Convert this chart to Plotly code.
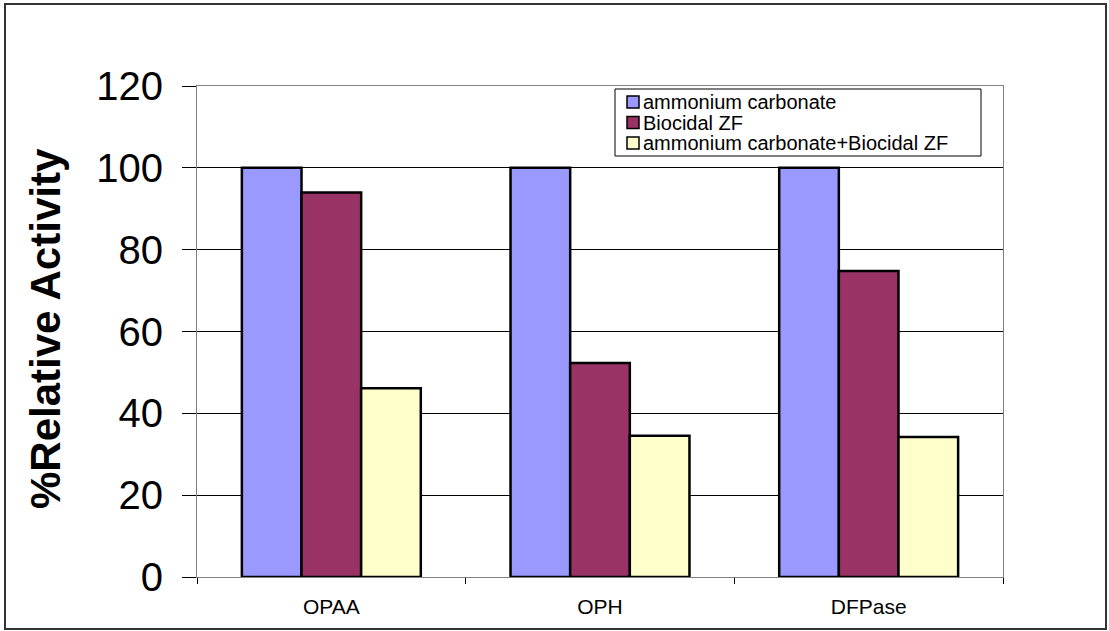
import plotly.graph_objects as go

# Enzyme categories and relative activities (%) per treatment
categories = ["OPAA", "OPH", "DFPase"]
series_names = ["ammonium carbonate", "Biocidal ZF", "ammonium carbonate+Biocidal ZF"]
ammonium_carbonate = [100, 100, 100]
biocidal_zf = [94, 52.3, 74.8]
combined = [46.1, 34.5, 34.2]
series_values = [ammonium_carbonate, biocidal_zf, combined]
series_colors = ["#9999FF", "#993366", "#FFFFCC"]
y_ticks = [0, 20, 40, 60, 80, 100, 120]

W, H = 1109, 631
L, R, T, B = 197, 1003, 86, 577  # plot area in pixels


def px(x):
    return (x - L) / (R - L)


def py(y):
    return (B - y) / (B - T)


FONT = "Liberation Sans, Arial, sans-serif"

fig = go.Figure()
for name, vals, col in zip(series_names, series_values, series_colors):
    fig.add_trace(go.Bar(
        x=categories, y=vals, name=name,
        marker=dict(color=col, line=dict(color="black", width=2.5)),
        showlegend=False,
    ))

fig.update_layout(
    width=W, height=H,
    margin=dict(l=L, r=W - R, t=T, b=H - B, pad=0),
    paper_bgcolor="white", plot_bgcolor="white",
    barmode="group", bargap=0.334, bargroupgap=0,
    font=dict(family=FONT, color="black"),
)

fig.update_xaxes(
    showline=True, linecolor="#808080", linewidth=1, mirror=True,
    ticks="outside", tickson="boundaries", ticklen=6, tickcolor="black",
    tickfont=dict(size=21, family=FONT), ticklabelstandoff=11,
    showgrid=False,
)
fig.update_yaxes(
    range=[0, 120], tickvals=y_ticks, ticktext=[str(v) for v in y_ticks],
    showline=True, linecolor="#808080", linewidth=1, mirror=True,
    ticks="outside", ticklen=14, tickcolor="black",
    tickfont=dict(size=40, family=FONT), ticklabelstandoff=11,
    showgrid=True, gridcolor="black", gridwidth=1, zeroline=False,
)

# y-axis title
fig.add_annotation(
    text="<b>%Relative Activity</b>", textangle=-90,
    xref="paper", yref="paper", x=px(45), y=py(329),
    xanchor="center", yanchor="middle", showarrow=False,
    font=dict(size=42, family=FONT, color="black"),
)

shapes = [
    # outer frame of the chart
    dict(type="rect", xref="paper", yref="paper",
         x0=px(5), x1=px(1106), y0=py(4), y1=py(629),
         line=dict(color="#333333", width=2), layer="below"),
    # legend box
    dict(type="rect", xref="paper", yref="paper",
         x0=px(615), x1=px(981), y0=py(89), y1=py(156),
         line=dict(color="black", width=1), fillcolor="white", layer="above"),
]
row_y = [102, 122.5, 143]
for name, col, ry in zip(series_names, series_colors, row_y):
    shapes.append(dict(type="rect", xref="paper", yref="paper",
                       x0=px(627), x1=px(639), y0=py(ry - 6), y1=py(ry + 6),
                       line=dict(color="black", width=1.5), fillcolor=col, layer="above"))
    fig.add_annotation(text=name, xref="paper", yref="paper",
                       x=px(642), y=py(ry), xanchor="left", yanchor="middle",
                       showarrow=False, borderpad=0,
                       font=dict(size=20, family=FONT, color="black"))
fig.update_layout(shapes=shapes)

fig.write_html("out.html")
